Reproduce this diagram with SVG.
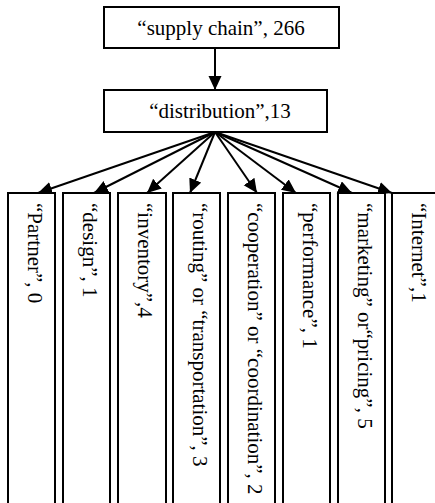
<svg xmlns="http://www.w3.org/2000/svg" width="435" height="503" viewBox="0 0 435 503">
<style>
.box{fill:#fff;stroke:#000;stroke-width:2}
text{font-family:'Liberation Serif','Times New Roman',Times,serif;fill:#000}
.t{font-size:21px}
.v{font-size:21px;dominant-baseline:central}
.c{stroke:#000;stroke-width:2;fill:none;marker-end:url(#ah)}
</style>
<defs>
<marker id="ah" markerWidth="16" markerHeight="16" refX="14" refY="6.5" orient="auto" markerUnits="userSpaceOnUse">
<path d="M0,0 L14,6.5 L0,13 Z" fill="#000"/>
</marker>
</defs>
<rect width="435" height="503" fill="#fff"/>
<g id="connectors">
<line class="c" x1="215" y1="48" x2="215" y2="90"/>
<line class="c" x1="215" y1="132" x2="38" y2="193"/>
<line class="c" x1="215" y1="132" x2="94" y2="193"/>
<line class="c" x1="215" y1="132" x2="147" y2="193"/>
<line class="c" x1="215" y1="132" x2="190" y2="193"/>
<line class="c" x1="215" y1="132" x2="257" y2="193"/>
<line class="c" x1="215" y1="132" x2="296" y2="193"/>
<line class="c" x1="215" y1="132" x2="352" y2="193"/>
<line class="c" x1="215" y1="132" x2="392" y2="193"/>
</g>
<g id="supply-chain">
<rect class="box" x="104" y="7" width="235" height="41"/>
<text class="t" x="221" y="35" text-anchor="middle">“supply chain”, 266</text>
</g>
<g id="distribution">
<rect class="box" x="104" y="90" width="223" height="42"/>
<text class="t" x="220" y="118" text-anchor="middle">“distribution”,13</text>
</g>
<g id="partner">
<rect class="box" x="8" y="193" width="47" height="320"/>
<text class="v" transform="translate(35,203) rotate(90)">“Partner”, 0</text>
</g>
<g id="design">
<rect class="box" x="63" y="193" width="47" height="320"/>
<text class="v" transform="translate(90,203) rotate(90)">“design”, 1</text>
</g>
<g id="inventory">
<rect class="box" x="118" y="193" width="48" height="320"/>
<text class="v" transform="translate(145,203) rotate(90)">“inventory”,4</text>
</g>
<g id="routing">
<rect class="box" x="173" y="193" width="47" height="320"/>
<text class="v" transform="translate(200,203) rotate(90)">“routing” or “transportation”, 3</text>
</g>
<g id="cooperation">
<rect class="box" x="228" y="193" width="47" height="320"/>
<text class="v" transform="translate(255,203) rotate(90)">“cooperation” or “coordination”, 2</text>
</g>
<g id="performance">
<rect class="box" x="283" y="193" width="47" height="320"/>
<text class="v" transform="translate(310,203) rotate(90)">“performance”, 1</text>
</g>
<g id="marketing">
<rect class="box" x="338" y="193" width="47" height="320"/>
<text class="v" transform="translate(365,203) rotate(90)">“marketing” or“pricing”, 5</text>
</g>
<g id="internet">
<rect class="box" x="392" y="193" width="50" height="320"/>
<text class="v" transform="translate(419,203) rotate(90)">“Internet”,1</text>
</g>
</svg>
